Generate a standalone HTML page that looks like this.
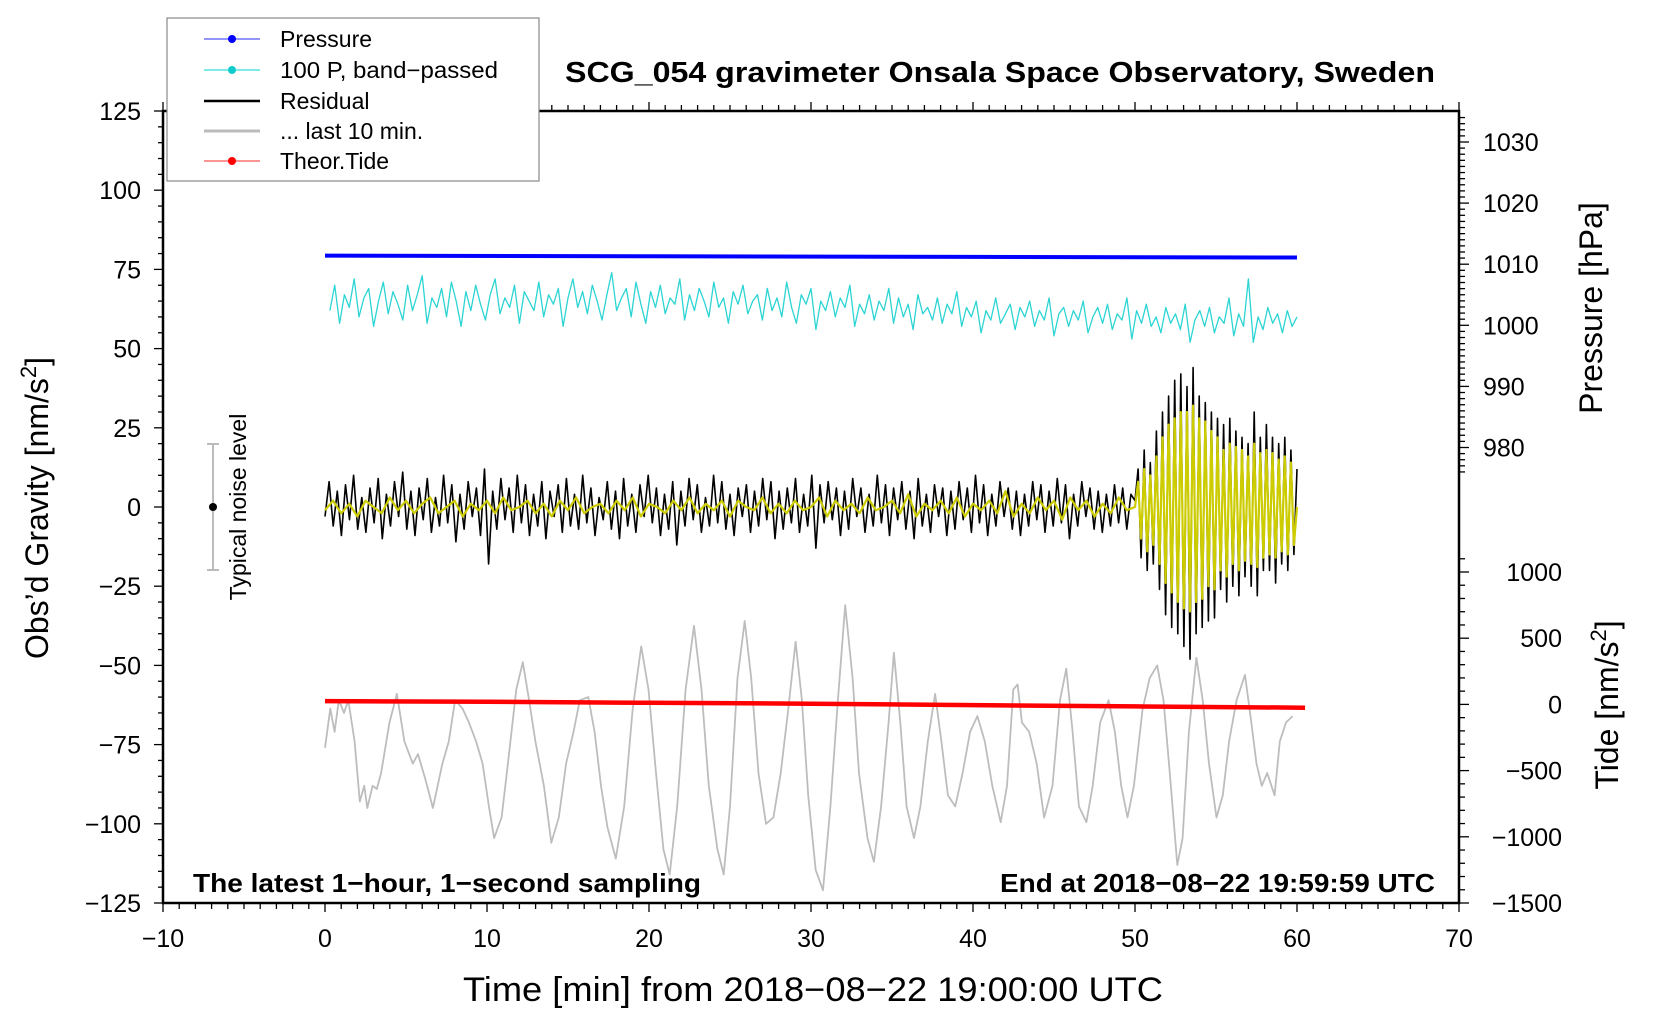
<!DOCTYPE html>
<html><head><meta charset="utf-8"><style>
html,body{margin:0;padding:0;background:#fff;}
svg{display:block;font-family:"Liberation Sans",sans-serif;}
</style></head><body>
<svg id="chart" width="1660" height="1020" viewBox="0 0 1660 1020" xmlns="http://www.w3.org/2000/svg">
<rect width="1660" height="1020" fill="#fff"/>
<g id="marks"></g>
<g id="axes"></g>
<text x="1000" y="82" text-anchor="middle" font-size="29" font-weight="bold" textLength="870" lengthAdjust="spacingAndGlyphs">SCG_054 gravimeter Onsala Space Observatory, Sweden</text>
<text x="813" y="1001" text-anchor="middle" font-size="34" textLength="700" lengthAdjust="spacingAndGlyphs">Time [min] from 2018−08−22 19:00:00 UTC</text>
<text transform="translate(48,508) rotate(-90)" text-anchor="middle" font-size="32">Obs’d Gravity [nm/s<tspan font-size="22" dy="-12">2</tspan><tspan dy="12">]</tspan></text>
<text transform="translate(1602,308) rotate(-90)" text-anchor="middle" font-size="32">Pressure [hPa]</text>
<text transform="translate(1618,705) rotate(-90)" text-anchor="middle" font-size="32">Tide [nm/s<tspan font-size="22" dy="-12">2</tspan><tspan dy="12">]</tspan></text>
<text x="193" y="892" font-size="26" font-weight="bold" textLength="508" lengthAdjust="spacingAndGlyphs">The latest 1−hour, 1−second sampling</text>
<text x="1435" y="892" text-anchor="end" font-size="26" font-weight="bold" textLength="435" lengthAdjust="spacingAndGlyphs">End at 2018−08−22 19:59:59 UTC</text>
<g>
<line x1="213" y1="444" x2="213" y2="570" stroke="#bbb" stroke-width="2"/>
<line x1="207" y1="444" x2="219" y2="444" stroke="#bbb" stroke-width="2"/>
<line x1="207" y1="570" x2="219" y2="570" stroke="#bbb" stroke-width="2"/>
<circle cx="213" cy="507" r="4" fill="#000"/>
<text transform="translate(246,507) rotate(-90)" text-anchor="middle" font-size="23">Typical noise level</text>
</g>
<g>
<rect x="167" y="18" width="372" height="163" fill="#fff" stroke="#888" stroke-width="1.2"/>
<g><line x1="204" y1="39" x2="260" y2="39" stroke="#55f" stroke-width="1.2"/><circle cx="232" cy="39" r="4" fill="#00f"/><text x="280" y="47" font-size="23">Pressure</text></g>
<g><line x1="204" y1="70" x2="260" y2="70" stroke="#3dd" stroke-width="1.2"/><circle cx="232" cy="70" r="4" fill="#1cc"/><text x="280" y="78" font-size="23" textLength="218" lengthAdjust="spacingAndGlyphs">100 P, band−passed</text></g>
<g><line x1="204" y1="101" x2="260" y2="101" stroke="#000" stroke-width="2.5"/><text x="280" y="109" font-size="23">Residual</text></g>
<g><line x1="204" y1="131" x2="260" y2="131" stroke="#bbb" stroke-width="3"/><text x="280" y="139" font-size="23">... last 10 min.</text></g>
<g><line x1="204" y1="161" x2="260" y2="161" stroke="#f55" stroke-width="1.2"/><circle cx="232" cy="161" r="4" fill="#f00"/><text x="280" y="169" font-size="23">Theor.Tide</text></g>
</g>
</svg>
<script>
// ---- data ----
const xTicks=[-10,0,10,20,30,40,50,60,70];
const gTicks=[-125,-100,-75,-50,-25,0,25,50,75,100,125];
const pTicks=[980,990,1000,1010,1020,1030];
const tideTicks=[-1500,-1000,-500,0,500,1000];
const pressureT=[0,20,40,60];
const pressureV=[1011.4,1011.3,1011.2,1011.1];
const tideT=[0,10,20,30,40,50,60.5];
const tideV=[25,20,12,5,-5,-15,-25];
const cyanV=[62,70,58,67,63,72,60,66,69,57,65,71,61,68,64,59,70,62,67,73,58,66,63,69,60,71,65,57,68,62,70,64,59,67,72,61,66,63,70,58,68,65,62,71,60,67,64,69,57,66,72,63,68,61,70,65,59,67,74,62,
66,69,60,71,64,58,68,63,70,61,66,64,72,59,67,62,69,65,60,71,63,66,58,68,64,70,61,65,67,59,
69,62,66,60,71,63,58,67,64,69,56,65,62,68,60,66,63,70,57,64,61,67,59,65,62,69,58,66,60,64,
56,67,61,63,59,66,58,64,61,68,57,63,60,65,55,62,59,66,58,61,64,56,63,60,65,57,62,59,66,54,
61,63,57,62,59,65,55,60,63,58,64,56,61,59,66,53,62,58,64,57,60,55,63,58,61,56,64,52,59,62,
57,63,55,60,58,66,54,61,57,72,52,60,56,63,58,61,55,62,57,60];
const residualEarly=[-3,8,-6,5,-9,7,-4,10,-7,3,-8,6,-5,9,-10,4,-6,8,-3,11,-7,5,-9,6,-4,9,-8,3,-6,10,-5,7,-11,4,-7,8,-3,6,-9,12,-18,5,-7,9,-4,6,-8,10,-5,7,-9,4,-6,8,-10,5,-3,7,-8,9,-6,4,-7,10,-5,6,-9,3,-4,8,-7,5,-10,9,-6,4,-8,7,-3,10,-5,6,-9,4,-7,8,-12,5,-6,9,-4,7,-8,3,-6,10,-5,8,-7,4,-9,6,-3,7,-8,5,-6,9,-4,8,-10,5,-7,6,-5,9,-8,4,-6,10,-13,7,-5,8,-4,6,-9,5,-7,9,-3,6,-8,4,-6,10,-5,7,-9,6,-4,8,-7,5,-10,9,-6,4,-8,7,-3,6,-9,5,-7,8,-4,6,-8,10,-5,7,-9,4,-6,8,-3,6,-7,5,-9,4,-6,8,-4,7,-8,5,-6,9,-5,7,-10,4,-6,8,-3,6,-7,5,-8,4,-6,7,-5,6,-7,4];
const residualLate=[2,12,-16,18,-20,14,-18,24,-26,30,-34,35,-38,40,-40,42,-44,38,-48,44,-40,35,-38,33,-36,30,-35,28,-26,26,-30,28,-25,24,-28,22,-22,20,-25,30,-28,22,-20,26,-20,22,-24,20,-18,22,-20,18,-15,12];
const filteredEarly=[-1,2,-2,1,-3,2,0,-2,3,-1,2,-2,1,3,-2,0,2,-3,1,-1,2,-2,3,-1,0,2,-2,1,-3,2,-1,3,-2,0,1,-2,2,-1,3,-3,1,0,-2,2,-1,3,-2,1,-1,2,-3,2,0,-1,3,-2,1,-2,2,-1,0,3,-3,2,-1,1,-2,3,-1,0,2,-2,4,-3,1,-1,2,-2,3,-3,1,-1,2,-2,5,-3,1,-2,3,-1,2,-4,3,-1,2,-3,1,-2,3,-1];
const filteredLate=[0,8,-10,12,-14,10,-12,16,-18,22,-24,26,-27,28,-30,30,-32,30,-33,32,-30,28,-29,27,-25,24,-26,22,-20,18,-22,20,-18,19,-20,18,-17,16,-18,20,-19,17,-16,18,-15,17,-16,15,-14,16,-15,14,-12,0];
const greyT=[0,.33,.59,.85,1.17,1.44,1.83,2.15,2.42,2.61,2.94,3.2,3.46,3.98,4.44,4.9,5.42,5.74,6.2,6.66,7.25,7.64,8.03,8.49,8.88,9.33,9.73,10.12,10.44,10.9,11.29,11.81,12.21,12.6,12.99,13.51,13.97,14.43,14.88,15.34,15.73,16.25,16.64,17.04,17.43,17.95,18.47,18.99,19.52,19.97,20.43,20.89,21.28,21.74,22.26,22.78,23.24,23.69,24.22,24.61,25,25.46,25.91,26.31,26.76,27.22,27.68,28.13,28.59,29.05,29.44,29.83,30.29,30.74,31.2,31.66,32.11,32.57,32.96,33.49,33.88,34.33,34.79,35.12,35.51,35.9,36.36,36.75,37.21,37.66,38.05,38.45,38.9,39.36,39.82,40.27,40.73,41.19,41.71,42.1,42.49,42.75,43.02,43.47,43.93,44.39,44.91,45.37,45.76,46.15,46.54,47,47.39,47.85,48.37,48.76,49.15,49.54,49.93,50.46,50.91,51.37,51.76,52.15,52.61,52.94,53.33,53.79,54.18,54.57,55.03,55.42,55.81,56.27,56.79,57.18,57.5,57.83,58.16,58.62,58.94,59.33,59.73];
const greyV=[-76,-63.6,-71,-61,-65,-61,-74,-93,-88,-95,-88,-89,-84,-68,-59,-74,-81,-78,-86,-95,-81,-74,-61,-63.6,-68,-74,-81,-94.5,-104.5,-98,-81,-57.6,-49,-61,-74,-88,-106,-98,-81,-71,-61,-60,-71,-88,-101,-111,-94.5,-64,-44,-57.6,-84,-108,-116,-94.5,-57.6,-37.5,-57.6,-88,-108,-116,-94.5,-54,-36,-54,-84,-100,-98,-84,-64,-42.5,-61,-91,-114.6,-121,-94.5,-61,-31,-54,-84,-104.5,-112,-94.5,-68,-46,-68,-94.5,-104.5,-94.5,-74,-59,-74,-91,-94.5,-84,-71,-66,-74,-88,-99.5,-88,-57.6,-56,-68,-71,-81,-98,-88,-61,-51,-71,-94.5,-99.5,-88,-68,-61,-71,-88,-98,-88,-64,-54,-50,-61,-84,-113,-104.5,-71,-47.6,-61,-81,-98,-91,-74,-61,-53,-68,-81,-88,-84,-91,-74,-68,-66];

// ---- scales ----
const X0=163,X1=1459,Y0=111,Y1=903;
const sx=t=>X0+(t+10)/80*(X1-X0);
const sg=g=>Y1-(g+125)/250*(Y1-Y0);
const sp=p=>142+(1030-p)*6.11;
const st=v=>704.4-v*0.1324;
const NS="http://www.w3.org/2000/svg";
const marks=document.getElementById('marks'), axes=document.getElementById('axes');
function el(tag,attrs,parent){const e=document.createElementNS(NS,tag);for(const k in attrs)e.setAttribute(k,attrs[k]);parent.appendChild(e);return e;}
function poly(ts,vs,scaleY,stroke,w,name){
  const pts=ts.map((t,i)=>sx(t).toFixed(1)+','+scaleY(vs[i]).toFixed(1)).join(' ');
  const p=el('polyline',{points:pts,fill:'none',stroke:stroke,'stroke-width':w,'stroke-linejoin':'round'},marks);
  
  
  return p;
}
poly(greyT,greyV,sg,'#bdbdbd',1.8,'last-10-min-line');
const cyanDt=60/(cyanV.length-1);
poly(cyanV.map((v,i)=>0.3+i*cyanDt*0.995),cyanV,sg,'#2cd4d4',1.3,'bandpassed-pressure-line');
const rdE=50/residualEarly.length, rdL=10/(residualLate.length-1);
const rT=residualEarly.map((v,i)=>i*rdE).concat(residualLate.map((v,i)=>50+i*rdL));
const rV=residualEarly.concat(residualLate);
poly(rT,rV,sg,'#000',1.6,'residual-line');
const fdE=50/filteredEarly.length, fdL=10/(filteredLate.length-1);
const fT=filteredEarly.map((v,i)=>i*fdE).concat(filteredLate.map((v,i)=>50+i*fdL));
const fV=filteredEarly.concat(filteredLate);
poly(fT,fV,sg,'#cccc00',2.2,'filtered-residual-line');
poly(pressureT,pressureV,sp,'#0000ff',4,'pressure-line');
poly(tideT,tideV,st,'#ff0000',4.5,'tide-line');

// ---- axes ----
el('rect',{x:X0,y:Y0,width:X1-X0,height:Y1-Y0,fill:'none',stroke:'#000','stroke-width':2.5},axes);
for(let t=-10;t<=70;t++){
  const L=(t%10===0)?9:6;
  el('line',{x1:sx(t),y1:Y1,x2:sx(t),y2:Y1+L,stroke:'#000','stroke-width':1.3},axes);
  el('line',{x1:sx(t),y1:Y0,x2:sx(t),y2:Y0-L,stroke:'#000','stroke-width':1.3},axes);
}
xTicks.forEach(t=>{const tx=el('text',{x:sx(t),y:947,'text-anchor':'middle','font-size':25},axes);tx.textContent=String(t).replace('-','−');

});
for(let g=-125;g<=125;g+=5){const L=(g%25===0)?9:5;el('line',{x1:X0,y1:sg(g),x2:X0-L,y2:sg(g),stroke:'#000','stroke-width':1.3},axes);}
gTicks.forEach(g=>{const tx=el('text',{x:141,y:sg(g)+9,'text-anchor':'end','font-size':25},axes);tx.textContent=String(g).replace('-','−');

});
for(let p=976;p<=1034;p++){const L=(p%10===0)?10:6;el('line',{x1:X1,y1:sp(p),x2:X1+L,y2:sp(p),stroke:'#000','stroke-width':1.3},axes);}
pTicks.forEach(p=>{const tx=el('text',{x:1483,y:sp(p)+9,'font-size':25},axes);tx.textContent=p;

});
for(let v=-1500;v<=1100;v+=100){const L=(v%500===0)?10:6;el('line',{x1:X1,y1:st(v),x2:X1+L,y2:st(v),stroke:'#000','stroke-width':1.3},axes);}
tideTicks.forEach(v=>{const tx=el('text',{x:1562,y:st(v)+9,'text-anchor':'end','font-size':25},axes);tx.textContent=String(v).replace('-','−');

});
</script>
</body></html>
